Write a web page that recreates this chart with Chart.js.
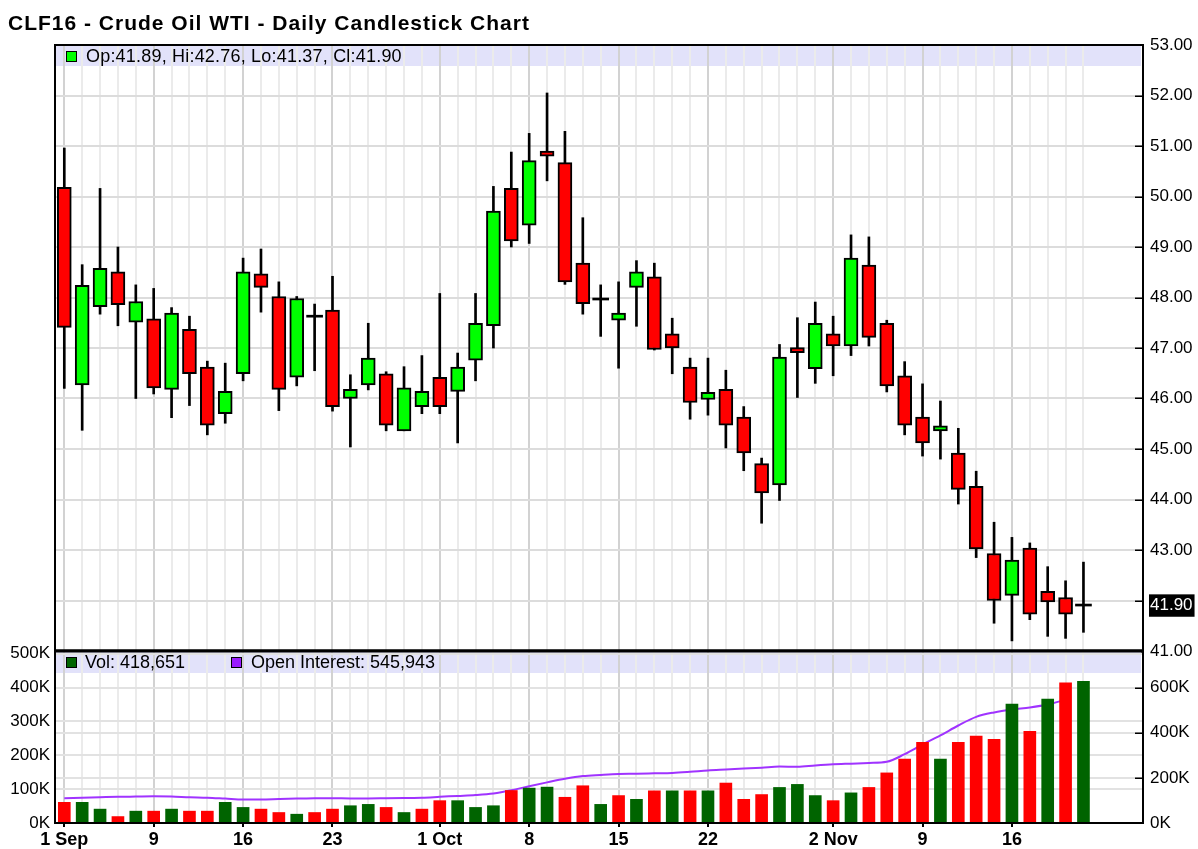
<!DOCTYPE html>
<html>
<head>
<meta charset="utf-8">
<script src="https://cdn.jsdelivr.net/npm/chart.js@4.4.1/dist/chart.umd.min.js"></script>
<style>
html,body{margin:0;padding:0;background:#fff;}
#wrap{position:relative;width:1198px;height:849px;overflow:hidden;font-family:"Liberation Sans",Arial,sans-serif;color:#000;}
canvas{position:absolute;left:0;top:0;}
#title{position:absolute;left:8px;top:12px;font-weight:bold;font-size:21px;line-height:21px;letter-spacing:1px;white-space:nowrap;}
.leg{position:absolute;font-size:18px;line-height:18px;white-space:nowrap;}
.sq{position:absolute;width:11px;height:11px;box-sizing:border-box;border:1px solid #000;}
</style>
</head>
<body>
<div id="wrap">
  <canvas id="cPrice" width="1198" height="849"></canvas>
  <canvas id="cVol" width="1198" height="849"></canvas>
  <div id="title">CLF16 - Crude Oil WTI - Daily Candlestick Chart</div>
  <div class="sq" id="sqPrice" style="left:66px;top:51px;background:#00ff00;"></div>
  <div class="leg" id="legPrice" style="left:86px;top:47px;letter-spacing:0.2px;"></div>
  <div class="sq" id="sqVol" style="left:66px;top:657px;background:#006400;"></div>
  <div class="leg" id="legVol" style="left:85px;top:653px;"></div>
  <div class="sq" id="sqOI" style="left:231px;top:657px;background:#9a1cff;"></div>
  <div class="leg" id="legOI" style="left:251px;top:653px;"></div>
</div>
<script>
// ---------------- data ----------------
const dates = ['2015-09-01','2015-09-02','2015-09-03','2015-09-04','2015-09-08','2015-09-09','2015-09-10','2015-09-11','2015-09-14','2015-09-15',
 '2015-09-16','2015-09-17','2015-09-18','2015-09-21','2015-09-22','2015-09-23','2015-09-24','2015-09-25','2015-09-28','2015-09-29',
 '2015-09-30','2015-10-01','2015-10-02','2015-10-05','2015-10-06','2015-10-07','2015-10-08','2015-10-09','2015-10-12','2015-10-13',
 '2015-10-14','2015-10-15','2015-10-16','2015-10-19','2015-10-20','2015-10-21','2015-10-22','2015-10-23','2015-10-26','2015-10-27',
 '2015-10-28','2015-10-29','2015-10-30','2015-11-02','2015-11-03','2015-11-04','2015-11-05','2015-11-06','2015-11-09','2015-11-10',
 '2015-11-11','2015-11-12','2015-11-13','2015-11-16','2015-11-17','2015-11-18','2015-11-19','2015-11-20'];

const opens = [50.18,46.27,47.82,48.51,47.51,47.58,46.18,47.37,46.62,45.70,
 46.49,48.47,48.02,46.42,47.61,47.75,46.00,46.27,46.49,45.36,
 45.84,46.42,46.14,46.76,47.44,50.16,49.43,50.85,50.67,48.68,
 47.95,47.55,48.20,48.41,47.28,46.62,45.98,46.18,45.63,44.71,
 44.29,46.97,46.59,47.28,47.04,48.64,47.49,46.45,45.63,45.36,
 44.92,44.26,42.93,42.10,43.04,42.18,42.06,41.89];

const highs = [50.96,48.65,50.16,49.00,48.25,48.18,47.80,47.63,46.74,46.70,
 48.78,48.96,48.31,48.02,47.87,48.42,46.47,47.49,46.53,46.63,
 46.85,48.08,46.90,48.08,50.20,50.88,51.25,52.05,51.29,49.58,
 48.25,48.31,48.73,48.68,47.59,46.80,46.80,46.56,45.84,44.82,
 47.07,47.60,47.91,47.63,49.24,49.20,47.55,46.73,46.29,45.95,
 45.41,44.56,43.55,43.25,43.14,42.67,42.39,42.76];

const lows = [46.20,45.37,47.67,47.44,46.00,46.09,45.62,45.86,45.28,45.51,
 46.35,47.71,45.76,46.25,46.55,45.75,45.04,46.17,45.36,45.36,
 45.70,45.70,45.12,46.35,47.00,49.00,49.07,50.31,48.26,47.67,
 47.23,46.60,47.43,46.96,46.49,45.59,45.67,45.02,44.57,43.53,
 43.98,46.02,46.30,46.45,46.85,47.04,46.13,45.28,44.86,44.80,
 43.91,42.85,41.55,41.20,41.62,41.29,41.25,41.37];

const closes = [47.41,48.24,48.58,47.86,47.92,46.21,47.69,46.49,45.47,46.14,
 48.51,48.20,46.18,47.98,47.61,45.84,46.18,46.80,45.47,46.21,
 46.14,45.84,46.62,47.49,49.71,49.12,50.71,50.80,48.31,47.88,
 47.95,47.69,48.51,46.97,47.00,45.92,46.12,45.47,44.92,44.13,
 46.82,46.91,47.49,47.04,48.78,47.21,46.25,45.47,45.12,45.43,
 44.20,43.02,42.00,42.80,41.73,41.97,41.73,41.90];

const volumes = [61000,61000,41000,19000,35000,35000,41000,35000,35000,61000,
 46000,41000,31000,26000,31000,41000,51000,55000,46000,31000,
 41000,66000,66000,46000,51000,96000,103000,106000,76000,110000,
 55000,81000,70000,95000,95000,95000,95000,118000,70000,84000,
 105000,114000,81000,66000,89000,105000,148000,189000,238000,189000,
 238000,257000,247000,351000,271000,366000,414000,418651];

const openInterest = [110000,112000,114000,116000,117000,118000,117000,114000,112000,108000,
 104000,104000,106000,108000,110000,110000,109000,109000,110000,111000,
 112000,116000,120000,124000,131000,145000,163000,180000,196000,208000,
 213000,217000,218000,220000,222000,227000,233000,237000,241000,245000,
 250000,249000,255000,260000,263000,266000,271000,305000,348000,388000,
 432000,470000,490000,503000,512000,525000,545943,null];

const xTickIndex = [0,5,10,15,21,26,31,36,43,48,53];
const xTickText  = ['1 Sep','9','16','23','1 Oct','8','15','22','2 Nov','9','16'];
const priceTicks = [41,42,43,44,45,46,47,48,49,50,51,52,53];
const volTicks   = [0,100000,200000,300000,400000,500000];
const oiTicks    = [0,200000,400000,600000];

// ---------------- layout / style constants ----------------
const W = 1198, H = 849;
const L = 55, R = 1143, PT = 45, PB = 651, VB = 823;
const XMIN = -0.52, XMAX = 60.33;
const PMIN = 41, PMAX = 53;
const VMAX = 508000, OIMAX = 762000;
const RED = '#ff0000', GREEN = '#00ff00', DKGREEN = '#006400', OI_COLOR = '#a033ff';
const BAND = '#e2e2fa';

Chart.defaults.font.family = '"Liberation Sans", Arial, sans-serif';
Chart.defaults.color = '#000';

const idx = dates.map((d, i) => i);
const labelMap = {};
xTickIndex.forEach((v, k) => { labelMap[v] = xTickText[k]; });
const isMajor = v => labelMap[v] !== undefined;
const last = closes.length - 1;
const lastClose = closes[last];
const isDoji = i => Math.abs(opens[i] - closes[i]) < 0.015;

const wickData = idx.map(i => ({x: i, y: [lows[i], highs[i]]}));
const bodyIdx = idx.filter(i => !isDoji(i));
const dojiIdx = idx.filter(i => isDoji(i));
const bodyData = bodyIdx.map(i => ({x: i, y: [opens[i], closes[i]]}));
const bodyColors = bodyIdx.map(i => closes[i] >= opens[i] ? GREEN : RED);
const dojiData = dojiIdx.map(i => ({x: i, y: [opens[i], closes[i]]}));

const volData = idx.map(i => ({x: i, y: volumes[i]}));
const volColors = idx.map(i => {
  const up = i === 0 ? closes[0] >= opens[0] : closes[i] >= closes[i - 1];
  return up ? DKGREEN : RED;
});
const oiData = idx.map(i => ({x: i, y: openInterest[i]}));

const gridX = ctx => (ctx.tick && isMajor(ctx.tick.value)) ? '#d2d2d2' : '#ebebeb';

const xScaleBase = {
  type: 'linear', min: XMIN, max: XMAX, offset: false,
  border: {display: false},
  afterBuildTicks: s => { s.ticks = idx.map(v => ({value: v})); }
};

// ---------------- plugins ----------------
function bandPlugin(id, h) {
  return {
    id,
    beforeDraw(chart) {
      const a = chart.chartArea, c = chart.ctx;
      c.save(); c.fillStyle = BAND;
      c.fillRect(a.left + 1, a.top + 1, a.right - a.left - 3, h);
      c.restore();
    }
  };
}
function framePlugin(id, topW, botW) {
  return {
    id,
    afterDraw(chart) {
      const a = chart.chartArea, c = chart.ctx;
      c.save(); c.strokeStyle = '#000';
      c.lineWidth = 2;
      c.beginPath();
      c.moveTo(a.left, a.top); c.lineTo(a.left, a.bottom);
      c.moveTo(a.right, a.top); c.lineTo(a.right, a.bottom);
      c.stroke();
      c.lineWidth = topW; c.beginPath(); c.moveTo(a.left - 1, a.top); c.lineTo(a.right + 1, a.top); c.stroke();
      c.lineWidth = botW; c.beginPath(); c.moveTo(a.left - 1, a.bottom); c.lineTo(a.right + 1, a.bottom); c.stroke();
      c.restore();
    }
  };
}
function innerTickPlugin(id, axisId, skip) {
  return {
    id,
    afterDraw(chart) {
      const a = chart.chartArea, c = chart.ctx, s = chart.scales[axisId];
      c.save(); c.strokeStyle = '#000'; c.lineWidth = 1.5;
      s.ticks.forEach(t => {
        if (skip(t.value)) return;
        const y = Math.round(s.getPixelForValue(t.value)) + 0.25;
        c.beginPath(); c.moveTo(a.right - 8, y); c.lineTo(a.right, y); c.stroke();
      });
      c.restore();
    }
  };
}

// ---------------- price chart ----------------
const yPriceTicks = priceTicks.concat([lastClose]).sort((a, b) => a - b);
const hiddenNear = v => v !== lastClose && Math.abs(v - lastClose) < 0.4;

new Chart(document.getElementById('cPrice'), {
  type: 'bar',
  data: {
    datasets: [
      {label: 'wick', data: wickData, backgroundColor: '#000', barThickness: 2, grouped: false, order: 3},
      {label: 'body', data: bodyData, backgroundColor: bodyColors, borderColor: '#000', borderWidth: 2,
       borderSkipped: false, barThickness: 14, minBarLength: 5, grouped: false, order: 2},
      {label: 'doji', data: dojiData, backgroundColor: '#000', barThickness: 16, minBarLength: 2, grouped: false, order: 1}
    ]
  },
  options: {
    responsive: false, animation: false, events: [],
    layout: {padding: {left: L, top: PT, right: 0, bottom: H - PB}},
    plugins: {legend: {display: false}, tooltip: {enabled: false}},
    scales: {
      x: Object.assign({}, xScaleBase, {
        grid: {offset: false, color: gridX, lineWidth: 2, drawTicks: false},
        ticks: {display: false},
        afterFit: s => { s.height = 0; }
      }),
      y: {
        type: 'linear', position: 'right', min: PMIN, max: PMAX,
        border: {display: false},
        grid: {color: ctx => (ctx.tick && ctx.tick.value === lastClose) ? 'rgba(0,0,0,0)' : '#dcdcdc', lineWidth: 2, drawTicks: false},
        ticks: {
          padding: 7, autoSkip: false, font: {size: 17},
          color: ctx => (ctx.tick && ctx.tick.value === lastClose) ? '#fff' : '#000',
          showLabelBackdrop: ctx => !!(ctx.tick && ctx.tick.value === lastClose),
          backdropColor: '#000',
          backdropPadding: {top: 1, bottom: 1, left: 1, right: 2},
          callback: v => hiddenNear(v) ? '' : Number(v).toFixed(2)
        },
        afterBuildTicks: s => { s.ticks = yPriceTicks.map(v => ({value: v})); },
        afterFit: s => { s.width = W - R; }
      }
    }
  },
  plugins: [bandPlugin('bandP', 20), framePlugin('frameP', 2, 3),
            innerTickPlugin('ticksP', 'y', v => v === lastClose || v === PMIN || v === PMAX)]
});

// ---------------- volume / open interest chart ----------------
new Chart(document.getElementById('cVol'), {
  type: 'bar',
  data: {
    datasets: [
      {type: 'line', label: 'Open Interest', data: oiData, yAxisID: 'yoi', borderColor: OI_COLOR, borderWidth: 2,
       pointRadius: 0, cubicInterpolationMode: 'monotone', spanGaps: false, order: 2},
      {type: 'bar', label: 'Vol', data: volData, yAxisID: 'yv', backgroundColor: volColors, barThickness: 12,
       grouped: false, order: 1}
    ]
  },
  options: {
    responsive: false, animation: false, events: [],
    layout: {padding: {left: 0, top: PB, right: 0, bottom: 0}},
    plugins: {legend: {display: false}, tooltip: {enabled: false}},
    scales: {
      x: Object.assign({}, xScaleBase, {
        grid: {offset: false, color: gridX, lineWidth: 2, drawTicks: true, tickLength: 4, tickWidth: 2,
               tickColor: ctx => (ctx.tick && isMajor(ctx.tick.value)) ? '#000' : 'rgba(0,0,0,0)'},
        ticks: {display: true, autoSkip: false, maxRotation: 0, padding: 2,
                font: {size: 18, weight: 'bold'}, callback: v => labelMap[v] !== undefined ? labelMap[v] : ''},
        afterFit: s => { s.height = H - VB; }
      }),
      yv: {
        type: 'linear', position: 'left', min: 0, max: VMAX,
        border: {display: false},
        grid: {color: '#e2e2e2', lineWidth: 2, drawTicks: false},
        ticks: {padding: 5, autoSkip: false, font: {size: 17}, callback: v => (v / 1000) + 'K'},
        afterBuildTicks: s => { s.ticks = volTicks.map(v => ({value: v})); },
        afterFit: s => { s.width = L; }
      },
      yoi: {
        type: 'linear', position: 'right', min: 0, max: OIMAX,
        border: {display: false},
        grid: {color: '#e2e2e2', lineWidth: 2, drawTicks: false},
        ticks: {padding: 7, autoSkip: false, font: {size: 17}, callback: v => (v / 1000) + 'K'},
        afterBuildTicks: s => { s.ticks = oiTicks.map(v => ({value: v})); },
        afterFit: s => { s.width = W - R; }
      }
    }
  },
  plugins: [bandPlugin('bandV', 21), framePlugin('frameV', 3, 2),
            innerTickPlugin('ticksV', 'yoi', v => v === 0)]
});

// ---------------- legends (text from data) ----------------
const fmt2 = v => v.toFixed(2);
document.getElementById('legPrice').textContent =
  'Op:' + fmt2(opens[last]) + ', Hi:' + fmt2(highs[last]) + ', Lo:' + fmt2(lows[last]) + ', Cl:' + fmt2(closes[last]);
document.getElementById('legVol').textContent = 'Vol: ' + volumes[last].toLocaleString('en-US');
const lastOI = openInterest.filter(v => v !== null).slice(-1)[0];
document.getElementById('legOI').textContent = 'Open Interest: ' + lastOI.toLocaleString('en-US');
</script>
</body>
</html>
